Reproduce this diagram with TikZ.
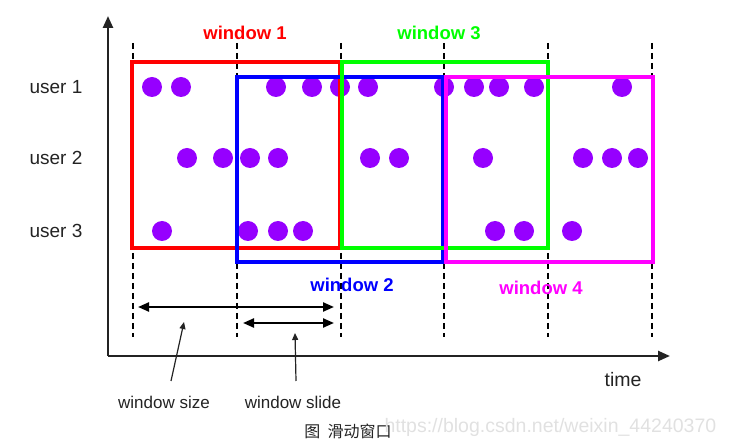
\documentclass[tikz,border=0pt]{standalone}
\usepackage{fontspec}
\setmainfont{Liberation Sans}
\newfontfamily\cjkfont{Noto Sans CJK SC}
\usetikzlibrary{arrows.meta}
\definecolor{dotc}{RGB}{150,0,255}
\definecolor{txtc}{RGB}{35,35,35}
\definecolor{wmark}{RGB}{225,225,225}
\definecolor{wred}{RGB}{255,0,0}
\definecolor{wblue}{RGB}{0,0,255}
\definecolor{wgreen}{RGB}{0,255,0}
\definecolor{wmag}{RGB}{255,0,255}
\begin{document}
\begin{tikzpicture}[x=1pt,y=-1pt,
  dotn/.style={circle,fill=dotc,inner sep=0pt,minimum size=20pt},
  gridline/.style={dash pattern=on 6pt off 4pt,line width=2pt,black},
  win/.style={line width=3.2pt},
  axisline/.style={line width=2.4pt,txtc,-{Triangle[length=12pt,width=10pt]}},
  span/.style={line width=2.2pt,black,{Triangle[length=11pt,width=9pt]}-{Triangle[length=11pt,width=9pt]}},
  pointer/.style={line width=1.2pt,txtc,-{Triangle[length=7pt,width=6pt]}},
  userlbl/.style={font=\fontsize{19}{20}\selectfont,text=txtc},
  winlbl/.style={font=\fontsize{18.5}{20}\selectfont\bfseries},
  smalllbl/.style={font=\fontsize{17}{18}\selectfont,text=txtc}]
\useasboundingbox (0,0) rectangle (729,446);

% axes
\coordinate (O) at (108,356);
\coordinate (ytop) at (108,16);
\coordinate (xend) at (670,356);
\draw[axisline] (O) -- (ytop);
\draw[axisline] (O) -- (xend);

% dots
\foreach \x [count=\i] in {152,181,276,312,340,368,444,474,499,534,622}
  \node[dotn] (a\i) at (\x,87) {};
\foreach \x [count=\i] in {187,223,250,278,370,399,483,583,612,638}
  \node[dotn] (b\i) at (\x,158) {};
\foreach \x [count=\i] in {162,248,278,303,495,524,572}
  \node[dotn] (c\i) at (\x,231) {};

% dashed time marks
\foreach \x [count=\i] in {133,237,341,444,548,652} {
  \coordinate (t\i) at (\x,43);
  \coordinate (b\i) at (\x,337);
  \draw[gridline] (t\i) -- (b\i);
}

% windows
\draw[win,wred]   (132,62) rectangle (340,248);
\draw[win,wblue]  (237,77) rectangle (443,262);
\draw[win,wgreen] (342,62) rectangle (548,248);
\draw[win,wmag]   (446,77) rectangle (653,262);

% labels
\node[userlbl] (u1) at (56,87) {user 1};
\node[userlbl] (u2) at (56,158) {user 2};
\node[userlbl] (u3) at (56,231) {user 3};
\node[winlbl,text=wred] (w1) at (245,33) {window 1};
\node[winlbl,text=wgreen] (w3) at (439,33) {window 3};
\node[winlbl,text=wblue] (w2) at (352,285) {window 2};
\node[winlbl,text=wmag] (w4) at (541,288) {window 4};
\node[font=\fontsize{19.5}{20}\selectfont,text=txtc] (time) at (623,380) {time};

% spans
\coordinate (s1) at (138,307);
\coordinate (s2) at (334,307);
\coordinate (l1) at (243,323);
\coordinate (l2) at (334,323);
\draw[span] (s1) -- (s2);
\draw[span] (l1) -- (l2);

% pointers
\node[smalllbl] (wsize) at (164,402) {window size};
\node[smalllbl] (wslide) at (293,402) {window slide};
\coordinate (p1s) at (171,381);
\coordinate (p1e) at (184,322);
\coordinate (p2s) at (296,381);
\coordinate (p2e) at (295,333);
\draw[pointer] (p1s) -- (p1e);
\draw[pointer] (p2s) -- (p2e);

% caption and watermark
\node[font=\cjkfont\fontsize{16}{17}\selectfont,text=txtc] (cap) at (348,431) {图\ \ 滑动窗口};
\node[font=\fontsize{19.5}{20}\selectfont,text=wmark,anchor=west] (wm) at (381,427) {https://blog.csdn.net/weixin\_44240370};
\end{tikzpicture}
\end{document}
